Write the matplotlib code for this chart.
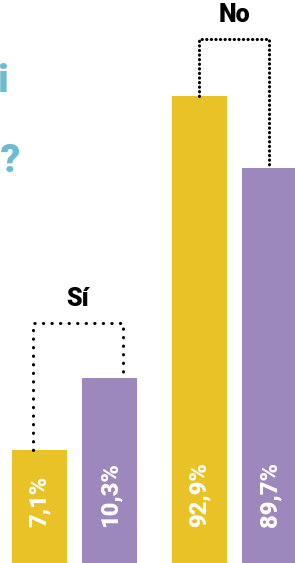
import matplotlib
matplotlib.use('Agg')
import matplotlib.pyplot as plt
import matplotlib.transforms as mtransforms

# survey answers, two series per answer
groups = ['Sí', 'No']
series_a = [7.1, 92.9]     # yellow
series_b = [10.3, 89.7]    # purple
labels_a = ['7,1%', '92,9%']
labels_b = ['10,3%', '89,7%']

# the original graphic zooms each answer differently, so each one gets its own y range
ylims = [(2.08, 27.1), (72.14, 97.17)]
bracket_level = [12.74, 95.44]
bracket_shift = [(-0.09, 0.19), (0.0, 0.0)]
dot_gap = [2.7, 1.4]

yellow = '#E9C227'
purple = '#9D88BE'
teal = '#6DBBD0'

group_x = [0.0, 2.2857]
width = 0.786

plt.rcParams['font.family'] = ['Roboto', 'DejaVu Sans']

fig = plt.figure(figsize=(2.95, 5.63), dpi=100)

for i, g in enumerate(groups):
  ax = fig.add_axes([0, 0, 1, 1])
  ax.patch.set_alpha(0)
  ax.set_xlim(-0.564, 3.65)
  ax.set_ylim(*ylims[i])
  ax.axis('off')

  xa = group_x[i]
  xb = group_x[i] + 1
  ax.bar([xa], [series_a[i]], width=width, color=yellow)
  ax.bar([xb], [series_b[i]], width=width, color=purple)

  # dotted bracket joining the two bar tops
  la = xa + bracket_shift[i][0]
  lb = xb + bracket_shift[i][1]
  ax.plot([la, la, lb, lb], [series_a[i], bracket_level[i], bracket_level[i], series_b[i]],
          color='black', lw=2.2, linestyle=(0, (0.1, dot_gap[i])),
          dash_capstyle='round', solid_capstyle='round')
  ax.annotate(g, xy=((la + lb) / 2, bracket_level[i]), xytext=(0, 8.5),
              textcoords='offset points', ha='center', va='bottom',
              fontsize=18, fontweight='black', color='black')

  # value labels inside the bars, near the bottom
  trans = mtransforms.blended_transform_factory(ax.transData, ax.transAxes)
  ax.text(xa, 0.064, labels_a[i], transform=trans, rotation=90, ha='center', va='bottom',
          fontsize=17, fontweight='black', color='white')
  ax.text(xb, 0.064, labels_b[i], transform=trans, rotation=90, ha='center', va='bottom',
          fontsize=17, fontweight='black', color='white')

# title cut off at the left edge
fig.text(9 / 295, 1 - 92 / 563, '¿Tu pareja te pedi', ha='right', va='baseline',
         fontsize=28, fontweight='black', color=teal)
fig.text(20 / 295, 1 - 172 / 563, 'explicaciones de dónde estás y que haces siempre?', ha='right', va='baseline',
         fontsize=28, fontweight='black', color=teal)

fig.savefig('out.png', dpi=100)
